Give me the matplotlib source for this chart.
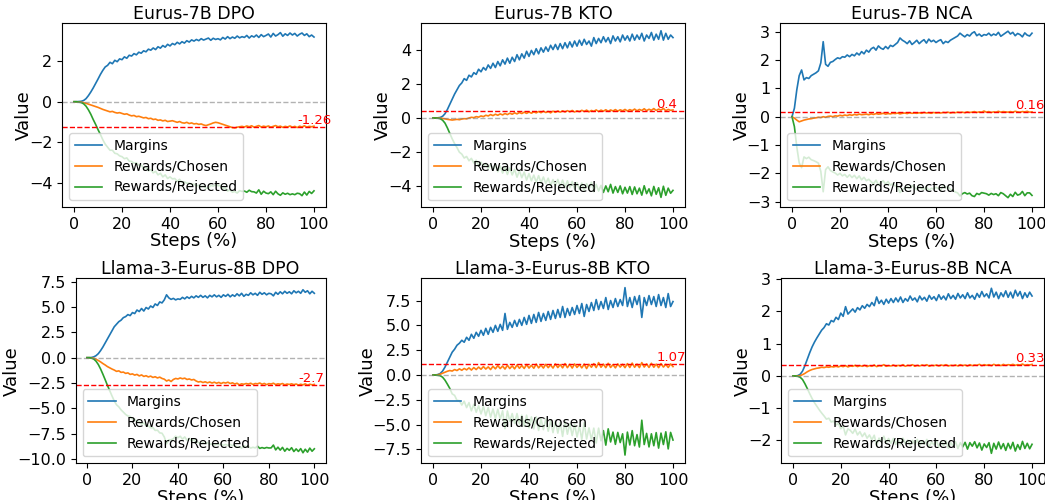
import numpy as np
import matplotlib
matplotlib.use("Agg")
import matplotlib.pyplot as plt
from matplotlib.ticker import MultipleLocator

steps = np.arange(101)

# ---- Eurus-7B DPO ----
dpo7_margins = [0.00, 0.00, 0.01, 0.02,
    0.06, 0.15, 0.30, 0.48, 0.68, 0.90, 1.12, 1.35, 1.55, 1.72, 1.80, 1.95, 1.88, 2.05, 1.98, 2.12, 2.08,
    2.22, 2.15, 2.30, 2.26, 2.38, 2.32, 2.45, 2.40, 2.52, 2.47,
    2.60, 2.55, 2.66, 2.58, 2.72, 2.65, 2.78, 2.70, 2.84, 2.76,
    2.88, 2.82, 2.94, 2.86, 2.97, 2.90, 3.02, 2.95, 3.06, 3.00,
    3.08, 3.02, 3.12, 3.05, 3.10, 3.15, 3.04, 3.14, 3.08, 3.12,
    3.06, 3.18, 3.10, 3.22, 3.12, 3.20, 3.14, 3.25, 3.16, 3.22,
    3.18, 3.28, 3.15, 3.26, 3.20, 3.30, 3.18, 3.32, 3.22, 3.28,
    3.35, 3.20, 3.38, 3.25, 3.32, 3.42, 3.24, 3.36, 3.28, 3.40,
    3.30, 3.38, 3.25, 3.34, 3.40, 3.28, 3.36, 3.22, 3.30, 3.20]
dpo7_chosen = [0.00, 0.00, -0.01, -0.02,
    -0.05, -0.08, -0.12, -0.16, -0.20, -0.24, -0.28, -0.33, -0.38, -0.42, -0.46, -0.50, -0.48, -0.53, -0.56, -0.54, -0.58,
    -0.62, -0.60, -0.66, -0.70, -0.68, -0.74, -0.72, -0.76, -0.80, -0.78,
    -0.84, -0.82, -0.88, -0.86, -0.92, -0.90, -0.95, -0.92, -0.98, -0.96,
    -0.94, -0.98, -1.02, -0.98, -1.04, -1.06, -1.02, -1.08, -1.05, -1.10,
    -1.08, -1.12, -1.10, -1.15, -1.18, -1.14, -1.10, -1.05, -1.02, -1.04,
    -1.08, -1.12, -1.16, -1.20, -1.24, -1.28, -1.30, -1.26, -1.24, -1.22,
    -1.25, -1.20, -1.24, -1.19, -1.26, -1.22, -1.18, -1.25, -1.21, -1.24,
    -1.20, -1.26, -1.22, -1.18, -1.24, -1.21, -1.27, -1.22, -1.25, -1.20,
    -1.26, -1.22, -1.28, -1.21, -1.25, -1.19, -1.26, -1.22, -1.24, -1.21]
dpo7_rejected = [0.00, 0.00, -0.02, -0.04,
    -0.10, -0.22, -0.40, -0.62, -0.88, -1.12, -1.38, -1.62, -1.88, -2.10, -2.25, -2.40, -2.40, -2.55, -2.58, -2.68, -2.72,
    -2.82, -2.78, -2.94, -2.96, -3.04, -3.02, -3.14, -3.12, -3.30, -3.24,
    -3.42, -3.36, -3.52, -3.44, -3.62, -3.54, -3.72, -3.62, -3.80, -3.72,
    -3.82, -3.80, -3.94, -3.84, -4.00, -3.96, -4.04, -4.02, -4.10, -4.08,
    -4.16, -4.14, -4.20, -4.18, -4.28, -4.28, -4.14, -4.18, -4.10, -4.16,
    -4.14, -4.30, -4.26, -4.42, -4.36, -4.48, -4.44, -4.52, -4.40, -4.44,
    -4.42, -4.48, -4.38, -4.45, -4.46, -4.52, -4.36, -4.58, -4.43, -4.52,
    -4.55, -4.46, -4.60, -4.43, -4.56, -4.63, -4.51, -4.58, -4.53, -4.60,
    -4.56, -4.60, -4.53, -4.55, -4.65, -4.47, -4.62, -4.44, -4.54, -4.41]

# ---- Eurus-7B KTO ----
kto7_margins = [0.00, 0.00, 0.01, 0.03,
    0.10, 0.25, 0.50, 0.80, 1.10, 1.40, 1.65, 1.90, 2.05, 2.30, 2.20, 2.50, 2.40, 2.65, 2.55, 2.85, 2.70,
    2.95, 2.80, 3.10, 2.90, 3.20, 2.95, 3.30, 3.05, 3.40, 3.15,
    3.50, 3.20, 3.55, 3.30, 3.70, 3.40, 3.75, 3.50, 3.90, 3.60,
    3.95, 3.70, 4.05, 3.75, 4.10, 3.85, 4.15, 3.90, 4.25, 4.00,
    4.30, 4.00, 4.35, 4.05, 4.40, 4.10, 4.45, 4.15, 4.50, 4.20,
    4.55, 4.25, 4.60, 4.30, 4.50, 4.20, 4.70, 4.35, 4.65, 4.40,
    4.75, 4.45, 4.70, 4.35, 4.80, 4.50, 4.75, 4.45, 4.85, 4.55,
    4.80, 4.50, 4.90, 4.55, 4.85, 4.60, 4.95, 4.50, 4.85, 4.65,
    5.00, 4.55, 4.90, 4.60, 5.10, 4.55, 4.95, 4.60, 4.85, 4.70]
kto7_chosen = [0.00, 0.00, 0.00, -0.01,
    -0.03, -0.05, -0.08, -0.10, -0.12, -0.10, -0.08, -0.10, -0.06, -0.04, -0.05, 0.00, 0.04, 0.02, 0.08, 0.05, 0.12,
    0.08, 0.16, 0.12, 0.20, 0.14, 0.22, 0.16, 0.24, 0.18, 0.26,
    0.20, 0.28, 0.22, 0.30, 0.24, 0.32, 0.26, 0.34, 0.27, 0.35,
    0.28, 0.36, 0.30, 0.38, 0.31, 0.40, 0.32, 0.38, 0.30, 0.40,
    0.33, 0.41, 0.34, 0.42, 0.35, 0.43, 0.36, 0.44, 0.35, 0.42,
    0.37, 0.45, 0.38, 0.46, 0.36, 0.44, 0.39, 0.47, 0.38, 0.46,
    0.40, 0.48, 0.39, 0.47, 0.41, 0.49, 0.40, 0.48, 0.42, 0.50,
    0.41, 0.49, 0.43, 0.52, 0.42, 0.50, 0.44, 0.54, 0.43, 0.51,
    0.45, 0.55, 0.44, 0.52, 0.46, 0.56, 0.43, 0.50, 0.45, 0.47]
kto7_rejected = [0.00, 0.00, -0.01, -0.04,
    -0.13, -0.30, -0.58, -0.90, -1.22, -1.50, -1.73, -2.00, -2.11, -2.34, -2.25, -2.50, -2.36, -2.63, -2.47, -2.80, -2.58,
    -2.87, -2.64, -2.98, -2.70, -3.06, -2.73, -3.14, -2.81, -3.22, -2.89,
    -3.30, -2.92, -3.33, -3.00, -3.46, -3.08, -3.49, -3.16, -3.63, -3.25,
    -3.67, -3.34, -3.75, -3.37, -3.79, -3.45, -3.83, -3.52, -3.95, -3.60,
    -3.97, -3.59, -4.01, -3.63, -4.05, -3.67, -4.09, -3.71, -4.15, -3.78,
    -4.18, -3.80, -4.22, -3.84, -4.14, -3.76, -4.31, -3.88, -4.27, -3.94,
    -4.35, -3.97, -4.31, -3.88, -4.39, -4.01, -4.35, -3.97, -4.43, -4.05,
    -4.39, -4.01, -4.47, -4.03, -4.43, -4.10, -4.51, -3.96, -4.42, -4.14,
    -4.55, -4.00, -4.46, -4.08, -4.64, -3.99, -4.52, -4.10, -4.40, -4.23]

# ---- Eurus-7B NCA ----
nca7_margins = [0.00, 0.30, 0.95, 1.45,
    1.65, 1.30, 1.38, 1.35, 1.45, 1.50, 1.55, 1.62, 1.90, 2.65, 1.85, 1.78, 1.92, 1.95, 2.02, 2.08, 2.05,
    2.12, 2.10, 2.18, 2.12, 2.20, 2.15, 2.25, 2.18, 2.30, 2.22,
    2.35, 2.28, 2.40, 2.45, 2.35, 2.50, 2.42, 2.38, 2.48, 2.40,
    2.52, 2.48, 2.55, 2.62, 2.78, 2.70, 2.65, 2.58, 2.68, 2.55,
    2.62, 2.70, 2.58, 2.66, 2.72, 2.60, 2.74, 2.65, 2.70, 2.62,
    2.68, 2.72, 2.58, 2.66, 2.62, 2.70, 2.75, 2.80, 2.85, 2.95,
    2.88, 2.82, 2.90, 2.85, 2.95, 3.00, 2.86, 2.92, 2.84, 2.90,
    2.88, 2.95, 2.86, 2.92, 2.88, 2.98, 2.84, 2.90, 2.96, 3.02,
    2.92, 2.98, 2.86, 2.94, 2.90, 2.82, 2.96, 2.88, 2.85, 2.95]
nca7_chosen = [0.00, -0.05, -0.12, -0.18,
    -0.15, -0.12, -0.10, -0.08, -0.07, -0.05, -0.04, -0.02, -0.03, 0.00, -0.02, 0.01, 0.02, 0.00, 0.03, 0.02, 0.05,
    0.03, 0.06, 0.04, 0.07, 0.05, 0.08, 0.06, 0.09, 0.07, 0.08,
    0.09, 0.07, 0.10, 0.08, 0.11, 0.09, 0.10, 0.12, 0.09, 0.11,
    0.10, 0.12, 0.11, 0.13, 0.10, 0.12, 0.13, 0.11, 0.14, 0.12,
    0.13, 0.12, 0.14, 0.12, 0.15, 0.13, 0.14, 0.12, 0.15, 0.13,
    0.14, 0.13, 0.15, 0.14, 0.16, 0.13, 0.15, 0.14, 0.16, 0.15,
    0.16, 0.14, 0.17, 0.15, 0.16, 0.18, 0.15, 0.17, 0.16, 0.20,
    0.16, 0.18, 0.15, 0.17, 0.16, 0.19, 0.16, 0.18, 0.17, 0.16,
    0.18, 0.16, 0.19, 0.17, 0.16, 0.18, 0.17, 0.19, 0.16, 0.17]
nca7_rejected = [0.00, -0.35, -1.07, -1.63,
    -1.80, -1.42, -1.48, -1.43, -1.52, -1.55, -1.59, -1.64, -1.93, -2.65, -1.87, -1.77, -1.90, -1.95, -1.99, -2.06, -2.00,
    -2.09, -2.04, -2.14, -2.05, -2.15, -2.07, -2.19, -2.09, -2.23, -2.14,
    -2.26, -2.21, -2.30, -2.37, -2.24, -2.41, -2.32, -2.26, -2.39, -2.29,
    -2.42, -2.36, -2.44, -2.49, -2.68, -2.58, -2.52, -2.47, -2.54, -2.43,
    -2.49, -2.58, -2.44, -2.54, -2.57, -2.47, -2.60, -2.53, -2.55, -2.49,
    -2.54, -2.59, -2.43, -2.52, -2.46, -2.57, -2.60, -2.66, -2.69, -2.80,
    -2.72, -2.68, -2.73, -2.70, -2.79, -2.82, -2.71, -2.75, -2.68, -2.70,
    -2.72, -2.77, -2.71, -2.75, -2.72, -2.79, -2.68, -2.72, -2.79, -2.86,
    -2.74, -2.82, -2.67, -2.77, -2.74, -2.64, -2.79, -2.69, -2.69, -2.78]

# ---- Llama-3-Eurus-8B DPO ----
dpo8_margins = [0.00, 0.00, 0.02, 0.08,
    0.20, 0.40, 0.70, 1.05, 1.45, 1.85, 2.25, 2.65, 3.05, 3.30, 3.55, 3.70, 3.95, 4.05, 4.25, 4.15, 4.45,
    4.35, 4.70, 4.55, 4.85, 4.60, 4.95, 4.80, 5.10, 4.95, 5.30,
    5.15, 5.50, 5.40, 5.70, 6.20, 5.90, 5.75, 5.85, 5.70, 5.80,
    5.75, 5.95, 5.80, 6.00, 5.85, 6.05, 5.90, 6.10, 5.95, 6.15,
    5.95, 6.10, 5.90, 6.15, 6.00, 6.20, 6.00, 6.15, 5.95, 6.20,
    6.05, 6.25, 6.00, 6.20, 6.05, 6.30, 6.10, 6.35, 6.05, 6.25,
    6.15, 6.40, 6.20, 6.35, 6.15, 6.45, 6.25, 6.40, 6.20, 6.35,
    6.30, 6.10, 6.45, 6.25, 6.50, 6.30, 6.55, 6.35, 6.50, 6.30,
    6.60, 6.40, 6.55, 6.35, 6.70, 6.45, 6.60, 6.30, 6.55, 6.35]
dpo8_chosen = [0.00, 0.00, -0.02, -0.06,
    -0.15, -0.28, -0.42, -0.58, -0.72, -0.88, -1.00, -1.12, -1.22, -1.35, -1.30, -1.45, -1.42, -1.55, -1.50, -1.65, -1.60,
    -1.72, -1.65, -1.80, -1.70, -1.85, -1.78, -1.90, -1.82, -1.95, -1.88,
    -2.00, -1.92, -2.05, -2.12, -2.30, -2.20, -2.35, -2.15, -2.05, -2.10,
    -2.00, -2.08, -2.02, -2.15, -2.10, -2.20, -2.15, -2.30, -2.40, -2.35,
    -2.45, -2.38, -2.48, -2.40, -2.50, -2.42, -2.52, -2.44, -2.55, -2.45,
    -2.50, -2.42, -2.55, -2.48, -2.60, -2.52, -2.68, -2.58, -2.62, -2.55,
    -2.60, -2.52, -2.64, -2.55, -2.58, -2.50, -2.62, -2.54, -2.66, -2.56,
    -2.60, -2.52, -2.65, -2.58, -2.62, -2.55, -2.68, -2.60, -2.64, -2.58,
    -2.66, -2.60, -2.70, -2.62, -2.68, -2.58, -2.72, -2.62, -2.68, -2.64]
dpo8_rejected = [0.00, 0.00, -0.04, -0.14,
    -0.35, -0.68, -1.12, -1.63, -2.17, -2.73, -3.25, -3.77, -4.27, -4.65, -4.85, -5.15, -5.37, -5.60, -5.75, -5.80, -6.05,
    -6.07, -6.35, -6.35, -6.55, -6.45, -6.73, -6.70, -6.92, -6.90, -7.18,
    -7.15, -7.42, -7.45, -7.82, -8.50, -8.10, -8.10, -8.00, -7.75, -7.90,
    -7.75, -8.03, -7.82, -8.15, -7.95, -8.25, -8.05, -8.40, -8.35, -8.50,
    -8.40, -8.48, -8.38, -8.55, -8.50, -8.62, -8.52, -8.59, -8.50, -8.65,
    -8.55, -8.67, -8.55, -8.68, -8.65, -8.82, -8.78, -8.93, -8.67, -8.80,
    -8.75, -8.92, -8.84, -8.90, -8.73, -8.95, -8.87, -8.94, -8.86, -8.91,
    -8.90, -8.62, -9.10, -8.83, -9.12, -8.85, -9.23, -8.95, -9.14, -8.88,
    -9.26, -9.00, -9.25, -8.97, -9.38, -9.03, -9.32, -8.92, -9.23, -8.99]

# ---- Llama-3-Eurus-8B KTO ----
kto8_margins = [0.00, 0.00, 0.05, 0.15,
    0.40, 0.80, 1.30, 1.80, 2.30, 2.60, 3.00, 3.20, 3.50, 3.30, 3.80, 3.50, 4.10, 3.70, 4.30, 3.90, 4.50,
    4.00, 4.70, 4.10, 4.80, 4.30, 5.00, 4.40, 5.10, 4.50, 6.20,
    4.60, 5.30, 4.80, 5.50, 4.90, 5.60, 5.00, 5.80, 5.10, 6.00,
    5.20, 6.10, 5.30, 6.30, 5.40, 6.20, 5.50, 6.40, 5.60, 6.50,
    5.70, 6.60, 5.80, 6.90, 5.80, 6.70, 6.00, 6.80, 6.10, 7.00,
    6.20, 7.20, 5.90, 7.10, 6.40, 7.30, 6.50, 7.60, 6.60, 7.40,
    6.70, 7.80, 6.60, 7.50, 6.80, 7.70, 6.90, 7.60, 7.00, 8.80,
    6.90, 7.80, 6.80, 7.90, 7.10, 8.00, 5.80, 7.80, 7.00, 8.00,
    7.10, 7.90, 6.90, 8.10, 7.00, 7.80, 6.80, 8.20, 6.90, 7.40]
kto8_chosen = [0.00, 0.00, 0.02, 0.08,
    0.18, 0.28, 0.38, 0.45, 0.40, 0.55, 0.45, 0.62, 0.48, 0.66, 0.52, 0.72, 0.50, 0.75, 0.55, 0.80, 0.58,
    0.85, 0.60, 0.82, 0.55, 0.88, 0.62, 0.95, 0.65, 0.90, 0.60,
    0.98, 0.65, 0.92, 0.62, 1.02, 0.68, 0.95, 0.66, 1.05, 0.70,
    0.98, 0.68, 1.10, 0.72, 1.00, 0.70, 1.08, 0.74, 1.02, 0.70,
    1.12, 0.75, 1.05, 0.72, 1.15, 0.74, 1.08, 0.70, 1.12, 0.76,
    1.05, 0.72, 1.10, 0.65, 1.08, 0.78, 1.15, 0.75, 1.25, 0.78,
    1.10, 0.74, 1.18, 0.76, 1.05, 0.72, 1.12, 0.80, 1.08, 0.74,
    1.15, 0.76, 1.20, 0.78, 1.10, 0.75, 1.25, 0.80, 1.12, 0.76,
    1.18, 0.78, 1.10, 0.74, 1.15, 0.80, 1.08, 0.76, 1.12, 0.85]
kto8_rejected = [0.00, 0.00, -0.03, -0.07,
    -0.22, -0.52, -0.92, -1.35, -1.90, -2.05, -2.55, -2.58, -3.02, -2.64, -3.28, -2.78, -3.60, -2.95, -3.75, -3.10, -3.92,
    -3.15, -4.10, -3.28, -4.25, -3.42, -4.38, -3.45, -4.45, -3.60, -5.40,
    -3.62, -4.65, -3.88, -4.88, -3.88, -4.92, -4.05, -5.14, -4.05, -5.30,
    -4.22, -5.42, -4.20, -5.58, -4.40, -5.50, -4.42, -5.66, -4.58, -5.80,
    -4.58, -5.85, -4.75, -6.18, -4.65, -5.96, -4.92, -6.10, -4.98, -6.24,
    -5.15, -6.48, -4.80, -6.45, -5.32, -6.52, -5.35, -6.85, -5.35, -6.62,
    -5.60, -7.06, -5.42, -6.74, -5.75, -6.98, -5.78, -6.80, -5.92, -8.06,
    -5.75, -7.04, -5.60, -7.12, -6.00, -7.25, -4.55, -7.00, -5.88, -7.24,
    -5.92, -7.12, -5.80, -7.36, -5.85, -7.00, -5.72, -7.44, -5.78, -6.55]

# ---- Llama-3-Eurus-8B NCA ----
nca8_margins = [0.00, 0.00, 0.01, 0.05,
    0.15, 0.32, 0.52, 0.72, 0.90, 1.05, 1.18, 1.30, 1.42, 1.50, 1.62, 1.58, 1.72, 1.68, 1.82, 1.75, 1.95,
    1.85, 2.15, 1.92, 2.00, 2.08, 1.98, 2.12, 2.05, 2.18, 2.10,
    2.22, 2.15, 2.28, 2.18, 2.45, 2.25, 2.35, 2.22, 2.38, 2.26,
    2.40, 2.28, 2.42, 2.30, 2.45, 2.28, 2.40, 2.32, 2.48, 2.35,
    2.42, 2.30, 2.48, 2.36, 2.44, 2.32, 2.50, 2.38, 2.46, 2.34,
    2.52, 2.38, 2.48, 2.36, 2.55, 2.40, 2.50, 2.38, 2.56, 2.42,
    2.52, 2.40, 2.58, 2.42, 2.50, 2.38, 2.56, 2.44, 2.62, 2.46,
    2.55, 2.42, 2.72, 2.45, 2.60, 2.40, 2.58, 2.46, 2.64, 2.44,
    2.60, 2.42, 2.66, 2.48, 2.62, 2.40, 2.58, 2.44, 2.60, 2.48]
nca8_chosen = [0.00, 0.00, 0.00, 0.01,
    0.04, 0.08, 0.13, 0.17, 0.20, 0.22, 0.24, 0.25, 0.27, 0.26, 0.28, 0.27, 0.29, 0.28, 0.30, 0.28, 0.31,
    0.29, 0.32, 0.28, 0.31, 0.30, 0.33, 0.29, 0.32, 0.30, 0.33,
    0.29, 0.32, 0.30, 0.34, 0.29, 0.32, 0.31, 0.35, 0.30, 0.32,
    0.31, 0.34, 0.30, 0.33, 0.31, 0.35, 0.30, 0.33, 0.32, 0.35,
    0.30, 0.33, 0.31, 0.34, 0.32, 0.35, 0.30, 0.33, 0.32, 0.34,
    0.31, 0.34, 0.32, 0.35, 0.31, 0.33, 0.32, 0.34, 0.31, 0.35,
    0.32, 0.34, 0.31, 0.35, 0.32, 0.34, 0.33, 0.36, 0.32, 0.35,
    0.33, 0.35, 0.32, 0.36, 0.33, 0.35, 0.32, 0.36, 0.33, 0.35,
    0.34, 0.36, 0.33, 0.35, 0.34, 0.37, 0.33, 0.35, 0.34, 0.36]
nca8_rejected = [0.00, 0.00, -0.01, -0.04,
    -0.11, -0.24, -0.39, -0.55, -0.70, -0.83, -0.94, -1.05, -1.15, -1.24, -1.34, -1.31, -1.43, -1.40, -1.52, -1.47, -1.64,
    -1.56, -1.83, -1.64, -1.69, -1.78, -1.65, -1.83, -1.73, -1.88, -1.77,
    -1.93, -1.83, -1.98, -1.84, -2.16, -1.93, -2.04, -1.87, -2.08, -1.94,
    -2.09, -1.94, -2.12, -1.97, -2.14, -1.93, -2.10, -1.99, -2.16, -2.00,
    -2.12, -1.97, -2.17, -2.02, -2.12, -1.97, -2.20, -2.05, -2.14, -2.00,
    -2.21, -2.04, -2.16, -2.01, -2.24, -2.07, -2.18, -2.04, -2.25, -2.07,
    -2.20, -2.06, -2.27, -2.07, -2.18, -2.04, -2.23, -2.08, -2.30, -2.11,
    -2.22, -2.07, -2.40, -2.09, -2.27, -2.05, -2.26, -2.10, -2.31, -2.09,
    -2.26, -2.06, -2.33, -2.13, -2.28, -2.03, -2.25, -2.09, -2.26, -2.12]

titles = ["Eurus-7B DPO", "Eurus-7B KTO", "Eurus-7B NCA",
          "Llama-3-Eurus-8B DPO", "Llama-3-Eurus-8B KTO", "Llama-3-Eurus-8B NCA"]
margins = [dpo7_margins, kto7_margins, nca7_margins, dpo8_margins, kto8_margins, nca8_margins]
chosen = [dpo7_chosen, kto7_chosen, nca7_chosen, dpo8_chosen, kto8_chosen, nca8_chosen]
rejected = [dpo7_rejected, kto7_rejected, nca7_rejected, dpo8_rejected, kto8_rejected, nca8_rejected]
ref_values = [-1.26, 0.4, 0.16, -2.7, 1.07, 0.33]
ref_labels = ["-1.26", "0.4", "0.16", "-2.7", "1.07", "0.33"]
ylims = [(-5.21, 3.91), (-5.22, 5.57), (-3.2, 3.32),
         (-10.42, 7.83), (-8.89, 9.74), (-2.71, 3.03)]
ysteps = [2, 2, 1, 2.5, 2.5, 1]
xticks = [0, 20, 40, 60, 80, 100]

# axes boxes in pixels: left, top, right, bottom
W, H = 1045, 500
boxes = [(62, 22.7, 326, 207), (421, 22.7, 685, 207.3), (780, 22.7, 1044, 207.3),
         (75.6, 278.3, 325.7, 463.3), (421, 278.3, 685, 463.3), (781, 278.3, 1044, 463.3)]

fig = plt.figure(figsize=(W / 100, H / 100), dpi=100)

for i in range(6):
    l, t, r, b = boxes[i]
    ax = fig.add_axes([l / W, 1 - b / H, (r - l) / W, (b - t) / H])
    ax.plot(steps, margins[i], color="#1f77b4", lw=1.2, label="Margins")
    ax.plot(steps, chosen[i], color="#ff7f0e", lw=1.2, label="Rewards/Chosen")
    ax.plot(steps, rejected[i], color="#2ca02c", lw=1.2, label="Rewards/Rejected")
    ax.axhline(0, color="gray", ls="--", lw=1.0, alpha=0.6)
    ax.axhline(ref_values[i], color="red", ls="--", lw=1.0)
    ax.text(93, ref_values[i], ref_labels[i], color="red", fontsize=9.5,
            ha="left", va="bottom")
    ax.set_xlim(-5, 105)
    ax.set_ylim(*ylims[i])
    ax.set_xticks(xticks)
    ax.yaxis.set_major_locator(MultipleLocator(ysteps[i]))
    ax.set_title(titles[i], fontsize=12.5, pad=3)
    ax.set_xlabel("Steps (%)", fontsize=13, labelpad=0.5)
    ax.set_ylabel("Value", fontsize=13, labelpad=-3)
    ax.tick_params(labelsize=11.5)
    ax.legend(loc="lower left", fontsize=10)

fig.savefig("out.png", dpi=100)
